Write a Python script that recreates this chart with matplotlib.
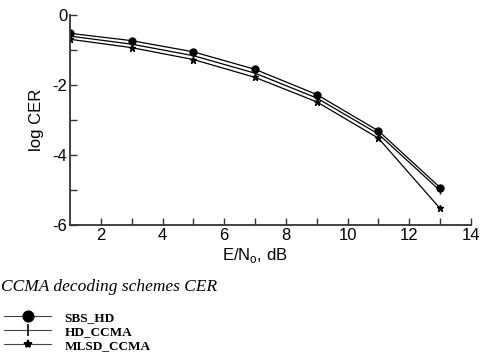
import matplotlib.pyplot as plt
from matplotlib.lines import Line2D

# E/No (dB) and log CER values
ebno = [1, 3, 5, 7, 9, 11, 13]
sbs_hd = [-0.52, -0.73, -1.05, -1.55, -2.27, -3.31, -4.93]
hd_ccma = [-0.60, -0.83, -1.16, -1.66, -2.37, -3.40, -5.02]
mlsd_ccma = [-0.69, -0.93, -1.27, -1.78, -2.48, -3.52, -5.53]

labels = ["SBS_HD", "HD_CCMA", "MLSD_CCMA"]
markers = ["o", "|", "*"]
xticks = [2, 4, 6, 8, 10, 12, 14]
yticks = [0, -2, -4, -6]

plt.rcParams["font.family"] = "Liberation Sans"

fig = plt.figure(figsize=(4.83, 3.52), dpi=100)
ax = fig.add_axes([0.145, 0.361, 0.83, 0.596])

for ys, m in zip([sbs_hd, hd_ccma, mlsd_ccma], markers):
    ax.plot(ebno, ys, color="black", lw=0.9, marker=m, markersize=5,
            markeredgewidth=1.0, markerfacecolor="black", markeredgecolor="black")

ax.set_xlim(1, 14)
ax.set_ylim(-6, 0)
ax.set_xticks(xticks)
ax.set_xticks([3, 5, 7, 9, 11, 13], minor=True)
ax.set_yticks(yticks)
ax.set_yticklabels(["0", "-2", "-4", "-6"])
ax.set_yticks([-1, -3, -5], minor=True)
ax.tick_params(which="both", direction="in", length=5, width=1.0, labelsize=12, pad=2,
               color="#333333")
for side in ["top", "right"]:
    ax.spines[side].set_visible(False)
for side in ["left", "bottom"]:
    ax.spines[side].set_linewidth(1.3)
    ax.spines[side].set_color("#333333")

ax.set_xlabel("E/N$_\\mathregular{o}$, dB", fontsize=12)
ax.xaxis.set_label_coords(0.462, -0.1)
ax.set_ylabel("log CER", fontsize=12)
ax.yaxis.set_label_coords(-0.066, 0.5)

fig.text(0.003, 0.184, "CCMA decoding schemes CER", family="Liberation Serif",
         style="italic", fontsize=12.5, va="center")

handles = [Line2D([], [], color="#444444", lw=0.8, marker=m,
                  markersize={"o": 7.5, "|": 8, "*": 6}[m], markeredgewidth=1.2,
                  markerfacecolor="black", markeredgecolor="black") for m in markers]
fig.legend(handles, labels, loc="upper left", bbox_to_anchor=(0.008, 0.115),
           frameon=False, handlelength=3.6, handletextpad=1.0, labelspacing=0.14,
           borderaxespad=0, borderpad=0,
           prop={"family": "Liberation Serif", "weight": "bold", "size": 9.5})

fig.savefig("out.png", dpi=100)
